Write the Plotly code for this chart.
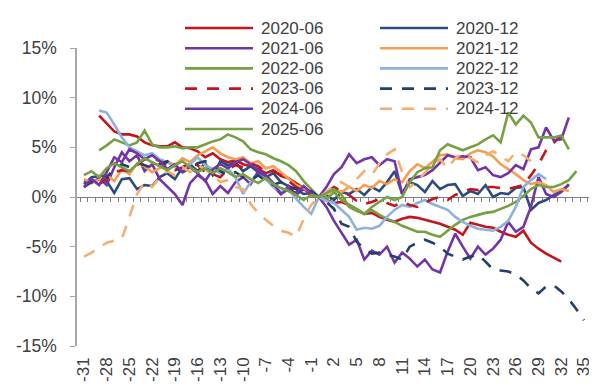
import plotly.graph_objects as go

# ---- axis categories / ticks ----
days = list(range(-31, 36))
x_tick_vals = [-31, -28, -25, -22, -19, -16, -13, -10, -7, -4, -1, 2, 5, 8, 11, 14, 17, 20, 23, 26, 29, 32, 35]
x_tick_text = ["-31", "-28", "-25", "-22", "-19", "-16", "-13", "-10", "-7", "-4", "-1", "2", "5", "8",
               "11", "14", "17", "20", "23", "26", "29", "32", "35"]
y_tick_vals = [-15, -10, -5, 0, 5, 10, 15]
y_tick_text = ["-15%", "-10%", "-5%", "0%", "5%", "10%", "15%"]

# ---- series (percent), each with its first day ----
s2020_06_start = -29
s2020_06 = [8.2, 7.4, 6.6, 6.3, 6.3, 6.1, 5.5, 5.2, 5.1, 5.1, 5.5, 5.0, 4.9, 4.6, 4.0, 4.4, 3.8, 3.5, 3.7, 3.3,
            3.1, 2.8, 2.4, 2.7, 2.1, 1.9, 1.4, 0.9, 0.5,
            0.0,
            -0.3, -0.6, -0.5, -0.8, -1.3, -1.7, -1.6, -2.0, -2.3, -2.5, -2.2, -2.0, -2.1, -2.3, -2.5, -2.7,
            -3.0, -3.3, -3.8, -2.6, -2.8, -3.0, -3.1, -3.5, -3.8, -4.0, -3.4, -4.6, -5.2, -5.7, -6.1, -6.5]

s2020_12_start = -31
s2020_12 = [1.3, 2.0, 2.1, 1.6, 0.4, 1.8, 1.9, 0.8, 1.2, 1.1, 2.0, 2.4, 1.8, 3.0, 3.3, 2.6, 3.4, 2.2, 3.6, 3.2,
            3.5, 2.6, 3.1, 2.5, 2.0, 2.4, 1.5, 1.1, 0.8, 0.3, 0.4,
            0.0,
            0.2, -0.3, 0.5, 0.3, 0.8, 0.2, 1.0, 0.6, 1.5, 2.6, 0.3, 1.5, 1.2, 0.5, 1.6, 0.8, 1.2, 1.3, 0.1, 0.6,
            0.3, 1.2, 0.0, 0.4, 0.3, 0.9, 1.0, -1.3, -0.6, -0.3, 0.2, 0.6, 1.2]

s2021_06_start = -31
s2021_06 = [1.6, 1.4, 1.9, 1.2, 3.0, 4.5, 3.6, 4.2, 2.6, 3.3, 1.8, 1.0, 0.3, -0.8, 1.4, 2.2, 1.7, 0.3, 1.1, 0.4,
            1.5, 2.0, 1.3, 2.6, 1.8, 1.0, 0.3, 1.1, 0.2, 0.8, 0.3,
            0.0,
            -1.0, -2.4, -3.6, -4.8, -4.3, -6.3, -5.4, -5.8, -5.0, -6.6, -5.6, -6.2, -7.0, -6.3, -7.3, -7.6,
            -5.5, -3.7, -5.0, -6.2, -5.0, -5.8, -5.2, -4.3, -2.5, -3.5, -3.0, -1.0, 2.0, 0.3, 0.0, 0.5, 1.3]

s2021_12_start = -31
s2021_12 = [1.8, 1.5, 1.7, 2.2, 1.6, 2.8, 2.3, 3.4, 3.1, 2.5, 2.9, 3.6, 3.2, 3.9, 3.5, 4.2, 4.6, 5.0, 4.4, 4.0,
            3.8, 4.0, 3.4, 3.6, 2.9, 3.1, 2.5, 1.8, 1.2, 0.9, 0.5,
            0.0,
            0.3, 0.8, 0.5, 1.0, 0.6, 1.2, 0.9, 1.6, 1.3, 1.8, 1.5, 2.6, 3.3, 2.9, 3.6, 4.2, 4.3, 3.9, 3.8, 4.4,
            4.7, 4.5, 4.1, 3.3, 2.8, 2.3, 1.7, 1.3, 1.5, 1.2, 0.5, 0.8, 0.6]

s2022_06_start = -29
s2022_06 = [4.7, 5.2, 5.8, 5.5, 5.2, 5.5, 6.7, 5.3, 5.0, 5.0, 5.1, 4.9, 5.0, 5.0, 5.3, 5.6, 5.8, 6.3, 6.0, 5.6,
            4.8, 4.5, 4.3, 3.9, 3.6, 3.2, 2.6, 1.6, 0.8,
            0.0,
            -0.2, 0.5, -0.3, -0.8, -1.2, -1.7, -1.3, -1.8, -2.2, -2.5, -2.9, -3.2, -3.5, -3.5, -3.8, -4.0,
            -3.4, -2.8, -2.3, -2.0, -1.8, -1.6, -1.5, -1.2, -0.9, -0.5, 0.1, 0.8, 1.2, 1.0, 1.0, 1.3, 1.7, 2.6]

s2022_12_start = -29
s2022_12 = [8.7, 8.5, 7.3, 6.0, 5.0, 4.6, 4.2, 4.4, 3.8, 3.5, 3.0, 2.7, 3.3, 4.0, 3.2, 2.8, 2.4, 2.9, 2.0, 0.3,
            1.5, 2.2, 1.8, 1.0, 0.5, 0.8, -0.2, -1.0, -1.7,
            0.0,
            -0.4, -0.6, -1.3, -2.0, -3.3, -3.1, -3.2, -2.9, -2.0, -1.3, -0.8, -1.0, -0.6, -0.3, -0.7, -1.0,
            -1.3, -2.0, -2.5, -2.9, -3.2, -3.3, -3.4, -3.0, -2.4, -1.0, 1.0, 1.7, 2.3, 1.8]

s2023_06_start = -29
s2023_06 = [1.3, 1.8, 2.5, 2.7, 2.6, 3.2, 3.8, 4.0, 3.6, 3.2, 2.7, 3.0, 3.4, 3.2, 2.5, 2.3, 2.0, 2.8, 3.2, 3.0,
            3.4, 3.1, 2.5, 2.6, 2.2, 1.6, 1.0, 0.6, 0.2,
            0.0,
            0.5, 1.0, 0.6, 0.2, -0.4, -0.7, -0.5, -0.2, -0.6, -0.9, -0.5, -0.8, -1.0, -0.6, -0.2, 0.0,
            -0.3, 0.2, 0.5, 0.8, 0.7, 1.0, 1.0, 0.9, 0.8, 1.0, 1.2, 2.2, 3.3, 4.7, 5.5, 6.2]

s2023_12_start = -31
s2023_12 = [1.0, 1.5, 2.3, 2.0, 2.8, 3.3, 3.0, 3.5, 3.2, 2.9, 3.3, 3.6, 3.0, 2.5, 2.9, 3.4, 3.6, 3.3, 2.6, 2.2,
            2.5, 2.0, 1.7, 2.2, 1.6, 1.2, 1.5, 0.8, 0.9, 0.3, 0.6,
            0.0,
            -0.5, -1.2, -2.7, -3.0, -4.5, -5.2, -5.7, -5.6, -5.8, -6.0, -6.3, -5.0, -4.6, -4.3, -4.6, -5.0,
            -5.7, -6.0, -6.3, -6.0, -5.8, -6.5, -7.3, -7.4, -7.5, -7.8, -8.4, -9.2, -9.7, -9.0, -8.9, -9.5,
            -10.3, -11.3, -12.4]

s2024_06_start = -31
s2024_06 = [1.0, 1.8, 1.2, 2.5, 4.0, 3.5, 4.8, 4.4, 3.8, 4.2, 3.6, 2.8, 3.3, 2.5, 3.0, 2.4, 1.6, 2.8, 3.3, 2.9,
            3.5, 3.8, 3.3, 2.7, 2.2, 1.4, 0.3, 0.8, 0.4, 1.1, 0.4,
            0.0,
            1.0, 2.3, 3.0, 4.3, 3.4, 3.8, 4.0, 3.2, 3.8, 3.6, 0.3, 1.8, 2.0, 2.2, 2.7, 3.4, 4.2, 4.0, 4.1, 4.0,
            2.7, 3.0, 2.2, 2.0, 2.4, 3.2, 2.8, 4.8, 5.0, 7.0, 5.7, 5.8, 8.0]

s2024_12_start = -31
s2024_12 = [-6.0, -5.6, -5.1, -4.6, -4.4, -4.2, -2.0, 0.3, 1.5, 1.0, 2.0, 2.6, 2.2, 3.0, 2.5, 3.2, 2.8, 2.2,
            1.5, 1.7, 1.0, 0.8, -0.7, -1.6, -2.3, -2.9, -3.4, -3.6, -4.0, -2.2, -0.8,
            0.0,
            0.5, 1.2, 1.5, 1.0, 1.8, 2.6, 2.2, 3.4, 4.3, 4.8, 2.5, 1.0, 1.6, 2.4, 3.3, 3.8, 2.9, 3.9, 4.4, 3.9,
            3.5, 4.2, 4.6, 4.1, 3.6, 4.5, 4.2, 3.6]

s2025_06_start = -31
s2025_06 = [2.2, 2.6, 2.0, 2.9, 3.4, 3.0, 2.6, 3.3, 3.9, 3.5, 3.1, 2.7, 3.2, 3.6, 3.0, 2.5, 2.9, 2.4, 2.9, 2.5,
            2.0, 2.3, 1.8, 1.4, 1.9, 1.3, 0.9, 0.6, 0.2, -0.3, 0.2,
            0.0,
            0.4, 0.8, 0.2, -1.0, -1.4, -1.7, -1.0, -0.5, 0.0, -0.3, 0.0, 1.5, 2.5, 2.9, 3.0, 4.7, 5.3, 5.0, 4.7,
            5.0, 5.3, 5.8, 6.2, 5.5, 8.5, 7.3, 8.2, 7.5, 6.0, 6.0, 6.0, 6.2, 4.8]

series_names = ["2020-06", "2020-12", "2021-06", "2021-12", "2022-06", "2022-12",
                "2023-06", "2023-12", "2024-06", "2024-12", "2025-06"]
series_values = [s2020_06, s2020_12, s2021_06, s2021_12, s2022_06, s2022_12,
                 s2023_06, s2023_12, s2024_06, s2024_12, s2025_06]
series_starts = [s2020_06_start, s2020_12_start, s2021_06_start, s2021_12_start, s2022_06_start,
                 s2022_12_start, s2023_06_start, s2023_12_start, s2024_06_start, s2024_12_start,
                 s2025_06_start]
series_colors = ["#C3161C", "#2B4C7E", "#7434A6", "#F59D52", "#77A043", "#8FB2DC",
                 "#C3161C", "#243F6B", "#7434A6", "#F5AE70", "#77A043"]
series_dash = ["solid", "solid", "solid", "solid", "solid", "solid",
               "12px,10px", "12px,10px", "solid", "12px,10px", "solid"]

FONT = "Arial, 'Liberation Sans', sans-serif"
TXT = "#404040"

# plot-area geometry (pixels) used to place the hand-built legend
W, H = 597, 384
ML, MR, MT, MB = 69, 12, 40, 46
PW, PH = W - ML - MR, H - MT - MB


def px_x(p):
    return (p - ML) / PW


def px_y(p):
    return (H - MB - p) / PH


fig = go.Figure()
for name, vals, start, col, dash in zip(series_names, series_values, series_starts, series_colors, series_dash):
    i0 = days.index(start)
    xs = days[i0:i0 + len(vals)]
    fig.add_trace(go.Scatter(x=xs, y=vals, mode="lines", name=name, showlegend=False,
                             line=dict(color=col, width=2.6, dash=dash)))

# invisible helper trace so the zero-line axis is rendered
fig.add_trace(go.Scatter(x=[days[0]], y=[0], xaxis="x2", mode="markers",
                         marker=dict(opacity=0), showlegend=False, hoverinfo="skip"))

# legend: two columns (June events left, December events right)
shapes = []
annotations = []
for k, (name, col, dash) in enumerate(zip(series_names, series_colors, series_dash)):
    column = k % 2
    row = k // 2
    x0, x1, xt = (177, 245, 251) if column == 0 else (372, 440, 446)
    yy = 20 + row * 20.2
    shapes.append(dict(type="line", xref="paper", yref="paper",
                       x0=px_x(x0), x1=px_x(x1), y0=px_y(yy), y1=px_y(yy),
                       line=dict(color=col, width=2.6, dash=dash)))
    annotations.append(dict(xref="paper", yref="paper", x=px_x(xt), y=px_y(yy),
                            xanchor="left", yanchor="middle", text=name, showarrow=False,
                            font=dict(family=FONT, size=17, color=TXT)))

xr = [-31.92, 36.19]
fig.update_layout(
    width=W, height=H,
    margin=dict(l=ML, r=MR, t=MT, b=MB, autoexpand=False),
    paper_bgcolor="white", plot_bgcolor="white",
    font=dict(family=FONT, size=17, color=TXT),
    showlegend=False,
    shapes=shapes, annotations=annotations,
    xaxis=dict(range=xr, tickmode="array", tickvals=x_tick_vals, ticktext=x_tick_text,
               tickangle=-90, showline=False, ticks="", showgrid=False, zeroline=False,
               tickfont=dict(family=FONT, size=17, color=TXT), ticklabelstandoff=7),
    xaxis2=dict(range=xr, overlaying="x", anchor="free", position=0.5, side="bottom",
                tickmode="linear", tick0=-31.5, dtick=1, ticks="outside", ticklen=4,
                tickcolor="#7F7F7F", showline=True, linecolor="#7F7F7F", linewidth=1.2,
                showticklabels=False, showgrid=False, zeroline=False, layer="below traces"),
    yaxis=dict(range=[-15, 15], tickmode="array", tickvals=y_tick_vals, ticktext=y_tick_text,
               showline=True, linecolor="#A6A6A6", linewidth=1.5, ticks="outside", ticklen=5,
               tickcolor="#A6A6A6", showgrid=False, zeroline=False,
               tickfont=dict(family=FONT, size=17.5, color=TXT), ticklabelstandoff=10),
)

fig.write_html("out.html")
